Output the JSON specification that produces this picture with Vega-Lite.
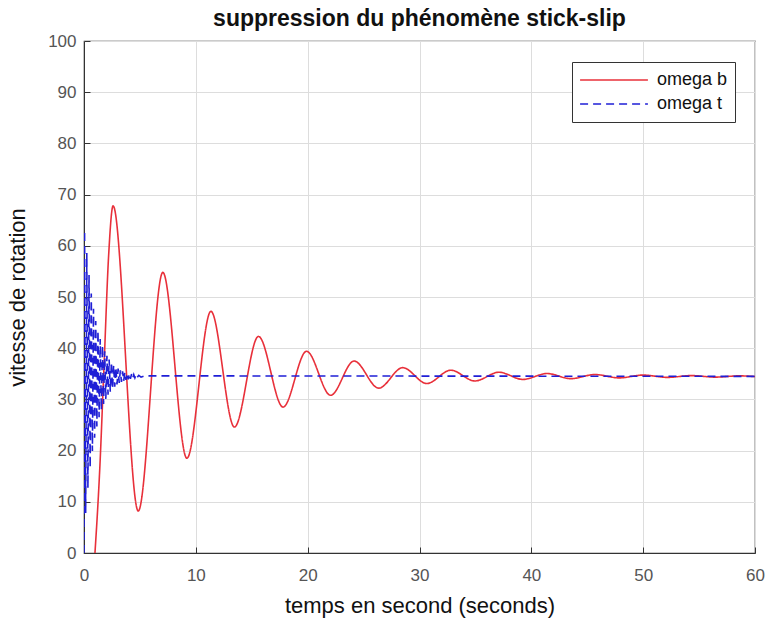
{
  "$schema": "https://vega.github.io/schema/vega-lite/v6.json",
  "width": 671,
  "height": 512,
  "autosize": "none",
  "padding": {"left": 84, "top": 41, "right": 15, "bottom": 68},
  "background": "white",
  "title": {
    "text": "suppression du phénomène stick-slip",
    "font": "Liberation Sans",
    "fontSize": 23,
    "fontWeight": "bold",
    "color": "#111111",
    "anchor": "middle",
    "offset": 1
  },
  "config": {
    "view": {"stroke": "#333333", "strokeWidth": 1.2},
    "axis": {
      "labelFont": "Liberation Sans",
      "titleFont": "Liberation Sans",
      "labelFontSize": 17,
      "titleFontSize": 22,
      "titleFontWeight": "normal",
      "labelColor": "#555555",
      "titleColor": "#111111",
      "gridColor": "#dddddd",
      "gridWidth": 1,
      "domainColor": "#333333",
      "tickColor": "#333333",
      "tickSize": -6,
      "labelPadding": 12,
      "labelFlush": false
    },
    "legend": {
      "orient": "none",
      "legendX": 488,
      "legendY": 21,
      "padding": 7,
      "strokeColor": "#333333",
      "fillColor": "white",
      "labelFont": "Liberation Sans",
      "labelFontSize": 18,
      "labelColor": "#111111",
      "symbolType": "stroke",
      "symbolStrokeWidth": 1.6,
      "symbolSize": 4600,
      "clipHeight": 22,
      "rowPadding": 2,
      "labelOffset": 8
    }
  },
  "data": {
    "values": [
      {"t": 0.98, "v": 0, "s": "omega b"},
      {"t": 1.4, "v": 16, "s": "omega b"},
      {"t": 1.8, "v": 37, "s": "omega b"},
      {"t": 2.2, "v": 58, "s": "omega b"},
      {"t": 2.6, "v": 67.8, "s": "omega b"},
      {"t": 4.85, "v": 8.2, "s": "omega b"},
      {"t": 7.05, "v": 54.8, "s": "omega b"},
      {"t": 9.2, "v": 18.5, "s": "omega b"},
      {"t": 11.35, "v": 47.2, "s": "omega b"},
      {"t": 13.45, "v": 24.6, "s": "omega b"},
      {"t": 15.6, "v": 42.3, "s": "omega b"},
      {"t": 17.8, "v": 28.5, "s": "omega b"},
      {"t": 19.9, "v": 39.4, "s": "omega b"},
      {"t": 22.05, "v": 30.8, "s": "omega b"},
      {"t": 24.15, "v": 37.5, "s": "omega b"},
      {"t": 26.35, "v": 32.2, "s": "omega b"},
      {"t": 28.5, "v": 36.2, "s": "omega b"},
      {"t": 30.65, "v": 33.1, "s": "omega b"},
      {"t": 32.8, "v": 35.7, "s": "omega b"},
      {"t": 34.95, "v": 33.6, "s": "omega b"},
      {"t": 37.1, "v": 35.3, "s": "omega b"},
      {"t": 39.25, "v": 33.9, "s": "omega b"},
      {"t": 41.4, "v": 35.05, "s": "omega b"},
      {"t": 43.55, "v": 34.05, "s": "omega b"},
      {"t": 45.7, "v": 34.85, "s": "omega b"},
      {"t": 47.85, "v": 34.2, "s": "omega b"},
      {"t": 50.0, "v": 34.75, "s": "omega b"},
      {"t": 52.15, "v": 34.3, "s": "omega b"},
      {"t": 54.3, "v": 34.65, "s": "omega b"},
      {"t": 56.45, "v": 34.35, "s": "omega b"},
      {"t": 58.6, "v": 34.6, "s": "omega b"},
      {"t": 60, "v": 34.45, "s": "omega b"},
      {"t": 0, "v": 0, "s": "omega t"},
      {"t": 0.05, "v": 63, "s": "omega t"},
      {"t": 0.15, "v": 7.8, "s": "omega t"},
      {"t": 0.25, "v": 58.6, "s": "omega t"},
      {"t": 0.35, "v": 12.7, "s": "omega t"},
      {"t": 0.45, "v": 54.3, "s": "omega t"},
      {"t": 0.55, "v": 16.6, "s": "omega t"},
      {"t": 0.65, "v": 50.7, "s": "omega t"},
      {"t": 0.75, "v": 19.9, "s": "omega t"},
      {"t": 0.85, "v": 47.7, "s": "omega t"},
      {"t": 0.95, "v": 22.5, "s": "omega t"},
      {"t": 1.05, "v": 45.3, "s": "omega t"},
      {"t": 1.15, "v": 24.7, "s": "omega t"},
      {"t": 1.25, "v": 43.4, "s": "omega t"},
      {"t": 1.35, "v": 26.5, "s": "omega t"},
      {"t": 1.45, "v": 41.8, "s": "omega t"},
      {"t": 1.55, "v": 27.9, "s": "omega t"},
      {"t": 1.65, "v": 40.5, "s": "omega t"},
      {"t": 1.75, "v": 29.1, "s": "omega t"},
      {"t": 1.85, "v": 39.4, "s": "omega t"},
      {"t": 1.95, "v": 30.1, "s": "omega t"},
      {"t": 2.05, "v": 38.5, "s": "omega t"},
      {"t": 2.15, "v": 30.9, "s": "omega t"},
      {"t": 2.25, "v": 37.8, "s": "omega t"},
      {"t": 2.35, "v": 31.5, "s": "omega t"},
      {"t": 2.45, "v": 37.2, "s": "omega t"},
      {"t": 2.55, "v": 32.1, "s": "omega t"},
      {"t": 2.65, "v": 36.7, "s": "omega t"},
      {"t": 2.75, "v": 32.5, "s": "omega t"},
      {"t": 2.85, "v": 36.3, "s": "omega t"},
      {"t": 2.95, "v": 32.9, "s": "omega t"},
      {"t": 3.05, "v": 36.0, "s": "omega t"},
      {"t": 3.15, "v": 33.2, "s": "omega t"},
      {"t": 3.25, "v": 35.7, "s": "omega t"},
      {"t": 3.35, "v": 33.4, "s": "omega t"},
      {"t": 3.45, "v": 35.5, "s": "omega t"},
      {"t": 3.55, "v": 33.6, "s": "omega t"},
      {"t": 3.65, "v": 35.3, "s": "omega t"},
      {"t": 3.75, "v": 33.8, "s": "omega t"},
      {"t": 3.85, "v": 35.15, "s": "omega t"},
      {"t": 3.95, "v": 33.9, "s": "omega t"},
      {"t": 4.05, "v": 35.05, "s": "omega t"},
      {"t": 4.15, "v": 34.0, "s": "omega t"},
      {"t": 4.25, "v": 34.95, "s": "omega t"},
      {"t": 4.35, "v": 34.1, "s": "omega t"},
      {"t": 4.45, "v": 34.85, "s": "omega t"},
      {"t": 4.55, "v": 34.2, "s": "omega t"},
      {"t": 4.65, "v": 34.8, "s": "omega t"},
      {"t": 4.75, "v": 34.25, "s": "omega t"},
      {"t": 4.9, "v": 34.7, "s": "omega t"},
      {"t": 5.1, "v": 34.35, "s": "omega t"},
      {"t": 5.4, "v": 34.6, "s": "omega t"},
      {"t": 60, "v": 34.5, "s": "omega t"}
    ]
  },
  "encoding": {
    "x": {
      "field": "t", "type": "quantitative",
      "scale": {"domain": [0, 60], "nice": false, "zero": false},
      "axis": {"values": [0, 10, 20, 30, 40, 50, 60], "title": "temps en second (seconds)", "titlePadding": 12, "labelPadding": 20}
    },
    "y": {
      "field": "v", "type": "quantitative",
      "scale": {"domain": [0, 100], "nice": false},
      "axis": {"values": [0, 10, 20, 30, 40, 50, 60, 70, 80, 90, 100], "title": "vitesse de rotation", "titlePadding": 18, "labelPadding": 14}
    },
    "color": {
      "field": "s", "type": "nominal",
      "scale": {"domain": ["omega b", "omega t"], "range": ["#e8303a", "#1f1fd6"]},
      "legend": {"title": null}
    },
    "strokeDash": {
      "field": "s", "type": "nominal",
      "scale": {"domain": ["omega b", "omega t"], "range": [[1, 0], [8, 5]]},
      "legend": {"title": null}
    }
  },
  "layer": [
    {
      "transform": [{"filter": "datum.s === 'omega b'"}],
      "mark": {"type": "line", "interpolate": "monotone", "strokeWidth": 1.6, "clip": true}
    },
    {
      "transform": [{"filter": "datum.s === 'omega t'"}],
      "mark": {"type": "line", "strokeWidth": 1.6, "clip": true}
    }
  ]
}
